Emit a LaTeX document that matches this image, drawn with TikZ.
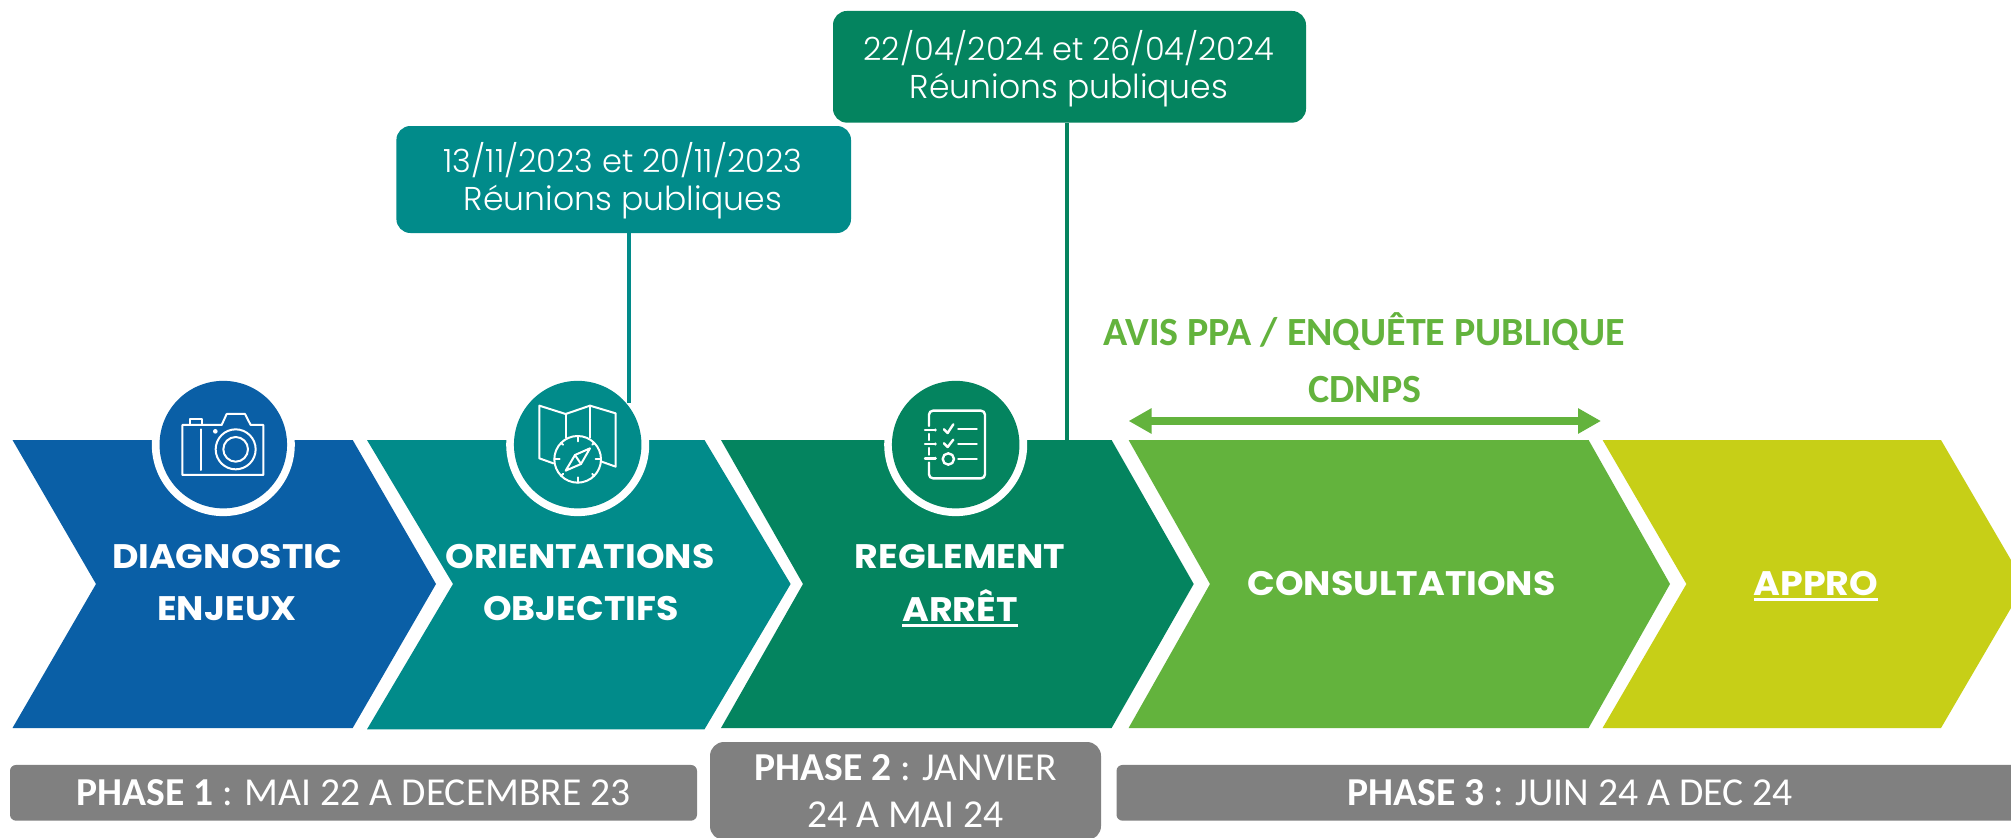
\documentclass[tikz,border=0pt]{standalone}
\usepackage{fontspec}
\usetikzlibrary{calc,arrows.meta}
\setmainfont{Carlito}
\newfontfamily\popb[FakeStretch=1.07]{Poppins}[BoldFont={Poppins Bold}]
\newfontfamily\popl{Poppins Light}
\newcommand{\heavyline}[1]{\setbox0\hbox{#1}\rlap{\rule[-5.5pt]{\wd0}{3pt}}\box0}
\definecolor{cblue}{HTML}{0A5FA6}
\definecolor{cteal}{HTML}{018B8A}
\definecolor{cdeep}{HTML}{04845F}
\definecolor{cgreen}{HTML}{63B33D}
\definecolor{clime}{HTML}{C7CF17}
\definecolor{cgrey}{HTML}{808080}
\tikzset{
  chev/.style={fill=#1,draw=none},
  ring/.style={circle,fill=white,draw=none,minimum size=143pt,inner sep=0pt},
  disc/.style={circle,fill=#1,draw=none,minimum size=127.5pt,inner sep=0pt},
  chevlabel/.style={anchor=base,text=white,inner sep=0pt,font=\popb\bfseries\fontsize{34}{34}\selectfont},
  phasebar/.style={fill=cgrey,rounded corners=6pt,text=white,inner sep=0pt,align=center,font=\fontsize{39.6}{47}\selectfont},
  datebox/.style={fill=#1,rounded corners=14pt,inner sep=0pt},
  datetext/.style={text=white,inner sep=0pt,align=center,font=\popl\fontsize{33}{38}\selectfont},
  stem/.style={draw=#1,line width=4pt},
  green label/.style={anchor=base,text=cgreen,inner sep=0pt,font=\bfseries\fontsize{40}{40}\selectfont},
  icon/.style={draw=white,line width=2pt,line join=round,line cap=round,fill=none},
  iconcoords/.style={x=0.33333pt,y=-0.33333pt}
}
\begin{document}
\begin{tikzpicture}[x=1pt,y=-1pt]
\clip (0,0) rectangle (2011,838);
\fill[white] (0,0) rectangle (2011,838);
% chevrons
\fill[chev=cblue] (12.5,440)--(352.7,440)--(436,584)--(352.7,728)--(12.5,728)--(96,584)--cycle;
\fill[chev=cteal] (367,440)--(704.5,440)--(790.6,584)--(704.5,729.3)--(367,729.3)--(453,584)--cycle;
\fill[chev=cdeep] (721,440)--(1111.6,440)--(1193.7,584)--(1111.6,728)--(721,728)--(803,584)--cycle;
\fill[chev=cgreen] (1128.6,440)--(1588.6,440)--(1670,584)--(1588.6,728)--(1128.6,728)--(1210,584)--cycle;
\fill[chev=clime] (1602.6,440)--(1941,440)--(2025,584)--(1941,728)--(1602.6,728)--(1686.4,584)--cycle;
% rings
\node[ring] (ring1) at (223.3,444.6) {};
\node[ring] (ring2) at (577.7,444.6) {};
\node[ring] (ring3) at (955.7,444.6) {};
% date boxes and stems
\node[datebox=cteal,minimum width=454.6pt,minimum height=107pt] (box1) at (623.7,179.5) {};
\node[datetext] (date1) at (623,181) {{\fontsize{32}{38}\selectfont 13/11/2023 et 20/11/2023}\\Réunions publiques};
\node[datebox=cdeep,minimum width=473pt,minimum height=111.7pt] (box2) at (1069.5,66.8) {};
\node[datetext] (date2) at (1069,68.5) {{\fontsize{32}{38}\selectfont 22/04/2024 et 26/04/2024}\\Réunions publiques};
\coordinate (stem1end) at (628.7,403);
\coordinate (stem2end) at (1066.7,440);
\draw[stem=cteal] (box1.south -| stem1end) -- (stem1end);
\draw[stem=cdeep] (box2.south -| stem2end) -- (stem2end);
% discs
\node[disc=cblue] (disc1) at (223.3,444.6) {};
\node[disc=cteal] (disc2) at (577.7,444.6) {};
\node[disc=cdeep] (disc3) at (955.7,444.6) {};
% camera icon
\begin{scope}[iconcoords,shift={(420,1110)}]
\draw[icon] (127,165)--(245,165)--(260,132)--(315,132)--(332,165)--(370,165)--(370,315)--(127,315)--cycle;
\draw[icon] (150,165)--(150,148)--(185,148)--(185,165);
\draw[icon] (183,178)--(183,300);
\fill[white] (226,184) circle[radius=7];
\draw[icon] (287,238) circle[radius=60];
\draw[icon] (287,238) circle[radius=37];
\end{scope}
% map and compass icon
\begin{scope}[iconcoords,shift={(1485,1110)}]
\draw[icon] (175,280)--(133,265)--(133,107)--(212,132)--(285,107)--(362,130)--(362,290)--(320,275);
\draw[icon] (212,132)--(212,203);
\draw[icon] (285,107)--(285,203);
\draw[icon] (248,268) circle[radius=70];
\foreach \a in {0,90,180,270}{\draw[icon] ($(248,268)+(\a:70)$)--($(248,268)+(\a:54)$);}
\foreach \a in {45,135,225,315}{\draw[icon] ($(248,268)+(\a:70)$)--($(248,268)+(\a:62)$);}
\draw[icon] (285,235)--(240,255)--(212,302)--(258,282)--cycle;
\draw[icon] (240,255)--(258,282);
\end{scope}
% checklist icon
\begin{scope}[iconcoords,shift={(2625,1110)}]
\draw[icon,line width=2.4pt,rounded corners=4pt] (162,168)--(162,122)--(330,122)--(330,325)--(162,325)--(162,278);
\draw[icon,line width=2.4pt] (162,192)--(162,210);
\draw[icon,line width=2.4pt] (162,234)--(162,254);
\foreach \y in {180,222,265}{\draw[icon,line width=2.4pt] (150,\y)--(180,\y); \fill[white] (181,\y) circle[radius=5];}
\draw[icon,line width=2.4pt] (207,178)--(218,189)--(235,163);
\draw[icon,line width=2.4pt] (207,220)--(218,231)--(235,209);
\draw[icon,line width=2.4pt] (220,267) circle[radius=17];
\foreach \y in {177,222,267}{\draw[icon,line width=2.4pt] (250,\y)--(305,\y);}
\end{scope}
% chevron labels
\node[chevlabel] (t1a) at (227,568) {DIAGNOSTIC};
\node[chevlabel] (t1b) at (227,620.7) {ENJEUX};
\node[chevlabel] (t2a) at (580,568) {ORIENTATIONS};
\node[chevlabel] (t2b) at (581,620.7) {OBJECTIFS};
\node[chevlabel] (t3a) at (960,568) {REGLEMENT};
\node[chevlabel] (t3b) at (960,621) {\heavyline{ARRÊT}};
\node[chevlabel] (t4) at (1401.6,595) {CONSULTATIONS};
\node[chevlabel] (t5) at (1816,595) {\heavyline{APPRO}};
% consultation notes
\node[green label] (avis) at (1364,345) {AVIS PPA / ENQUÊTE PUBLIQUE};
\node[green label] (cdnps) at (1365,402.7) {CDNPS};
\coordinate (arrowL) at (1128.6,421);
\coordinate (arrowR) at (1601,421);
\draw[draw=cgreen,line width=8pt,{Triangle[length=23pt,width=24pt,inset=0pt]}-{Triangle[length=23pt,width=24pt,inset=0pt]}] (arrowL) -- (arrowR);
% phase bars
\node[phasebar,minimum width=687pt,minimum height=55.7pt] (p1) at (353.5,792.8) {\textbf{PHASE 1} : MAI 22 A DECEMBRE 23};
\node[phasebar,rounded corners=14pt,minimum width=391pt,minimum height=98pt] (p2) at (905.5,791) {\textbf{PHASE 2} : JANVIER\\24 A MAI 24};
\node[phasebar,minimum width=907pt,minimum height=55.7pt] (p3) at (1570,792.8) {\textbf{PHASE 3} : JUIN 24 A DEC 24};
\end{tikzpicture}
\end{document}
